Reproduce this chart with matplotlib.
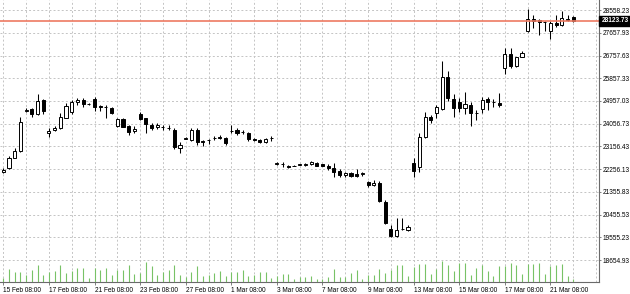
import matplotlib
matplotlib.use("Agg")
import matplotlib.pyplot as plt
import matplotlib.transforms as mtransforms

opens = [22167, 22306, 22721, 22979, 24581, 24641, 24443, 24997, 23671, 23810,
         23889, 24304, 24522, 24918, 24997, 24830, 25036, 24745, 24719, 24680,
         23968, 24225, 23948, 23770, 24423, 24265, 24027, 23909, 23909, 23895,
         23829, 23097, 23453, 23413, 23829, 23360, 23415, 23473, 23515, 23512,
         23770, 23790, 23730, 23691, 23465, 23413, 23334, 23473, 22483, 22464,
         22404, 22385, 22436, 22444, 22452, 22515, 22452, 22404, 22294, 22199,
         22017, 22120, 22068, 22056, 21751, 21645, 21724, 20972, 19872, 19614,
         19903, 19852, 22515, 22357, 23520, 24336, 24470, 24628, 25919, 25024,
         24905, 24668, 24799, 24470, 24628, 25024, 24929, 24890, 26251, 26817,
         26342, 26710, 27739, 28190, 28162, 28083, 27739, 28056, 27965, 28214,
         28269]
highs = [22306, 22781, 23097, 24324, 24680, 24680, 25234, 25036, 23869, 23968,
         24482, 24878, 24997, 25076, 25056, 24870, 25135, 24779, 24779, 24719,
         24265, 24265, 24007, 23948, 24522, 24304, 24086, 24067, 23988, 23988,
         23869, 23315, 23532, 23869, 23869, 23413, 23434, 23572, 23612, 23544,
         23988, 23869, 23810, 23730, 23481, 23441, 23473, 23572, 22543, 22543,
         22444, 22412, 22464, 22491, 22582, 22543, 22464, 22452, 22515, 22254,
         22136, 22159, 22254, 22159, 21791, 21831, 21803, 21039, 20050, 20315,
         20315, 20050, 22689, 23679, 24533, 24403, 24799, 26552, 26156, 25234,
         25064, 25301, 24905, 24601, 25127, 25127, 25024, 25262, 27043, 27066,
         26710, 26948, 28586, 28360, 28190, 28135, 28135, 28360, 28530, 28360,
         28321]
lows = [22108, 22266, 22702, 22939, 24522, 24324, 24403, 24443, 23552, 23770,
        23849, 24284, 24443, 24799, 24700, 24800, 24561, 24561, 24304, 24462,
        23909, 23909, 23612, 23671, 24205, 23691, 23810, 23849, 23829, 23810,
        23077, 22899, 23434, 23374, 23216, 23176, 23255, 23394, 23434, 23216,
        23691, 23612, 23651, 23386, 23386, 23283, 23307, 23386, 22424, 22333,
        22325, 22373, 22412, 22397, 22424, 22385, 22385, 22226, 21961, 21961,
        21961, 21961, 21949, 21989, 21565, 21593, 20972, 20089, 19587, 19587,
        19852, 19824, 21937, 22159, 23481, 24098, 24272, 24601, 24969, 24336,
        24533, 24443, 23968, 24205, 24470, 24601, 24731, 24731, 26026, 26251,
        26314, 26686, 27699, 27834, 27569, 27739, 27399, 27897, 27925, 28135,
        28095]
closes = [22246, 22702, 22998, 24126, 24601, 24443, 24957, 24542, 23770, 23889,
          24324, 24759, 24918, 24977, 24838, 24820, 24700, 24735, 24739, 24482,
          24225, 23928, 23750, 23849, 24245, 24047, 23889, 23988, 23928, 23885,
          23156, 23216, 23473, 23829, 23315, 23350, 23410, 23493, 23510, 23295,
          23765, 23691, 23750, 23453, 23413, 23334, 23434, 23493, 22503, 22452,
          22345, 22397, 22452, 22456, 22531, 22397, 22404, 22306, 22159, 22028,
          22096, 21989, 21989, 22120, 21645, 21724, 21011, 20117, 19614, 19852,
          19911, 19970, 22199, 23520, 24336, 24205, 24708, 25919, 25064, 24668,
          24668, 24826, 24470, 24482, 24997, 24929, 24937, 24799, 26817, 26342,
          26686, 26868, 28190, 28135, 28083, 28095, 28056, 27965, 28230, 28162,
          28123.73]
volumes = [330, 1270, 1000, 930, 630, 1170, 1630, 670, 930, 1070,
           1630, 830, 1100, 1330, 1370, 330, 1330, 1170, 1400, 630,
           1170, 1170, 1630, 770, 900, 1930, 1600, 630, 1000, 1170,
           1670, 700, 500, 1000, 1570, 550, 650, 900, 1050, 550,
           950, 950, 1200, 550, 650, 1000, 950, 400, 550, 800,
           800, 250, 450, 450, 600, 300, 250, 430, 1300, 500,
           520, 880, 1220, 280, 630, 720, 1250, 920, 1220, 1700,
           1680, 530, 1470, 1770, 1770, 770, 1270, 2100, 1670, 1100,
           1870, 1870, 670, 1370, 1670, 1100, 600, 1530, 1600, 1870,
           1670, 770, 1770, 1770, 1870, 770, 1530, 1700, 1770, 600,
           270]
x_tick_labels = ["15 Feb 08:00", "17 Feb 08:00", "21 Feb 08:00", "23 Feb 08:00",
                 "27 Feb 08:00", "1 Mar 08:00", "3 Mar 08:00", "7 Mar 08:00",
                 "9 Mar 08:00", "13 Mar 08:00", "15 Mar 08:00", "17 Mar 08:00",
                 "21 Mar 08:00"]
y_tick_values = [28558.23, 27657.93, 26757.63, 25857.33, 24957.03, 24056.73,
                 23156.43, 22256.13, 21355.83, 20455.53, 19555.23, 18654.93]
bid_price = 28123.73

FONT = "Liberation Sans"
FS = 4.7
W, H = 630, 294
rect = [0, 12.3 / H, 599 / W, 281.7 / H]

fig = plt.figure(figsize=(W / 100, H / 100), dpi=100)
fig.patch.set_facecolor("white")
ax = fig.add_axes(rect)
ax.set_facecolor("white")

n = len(opens)
xs = list(range(n))
ax.set_xlim(-0.58, 104.51)
ax.set_ylim(17806, 28954)

grid_kw = dict(color="#c4c4c4", linewidth=0.7, linestyle=(0, (2, 2.2)), zorder=0)
for yv in y_tick_values:
    ax.axhline(yv, **grid_kw)
for gx in range(0, 105, 4):
    ax.axvline(gx, **grid_kw)

# wicks
ax.vlines(xs, lows, highs, color="black", linewidth=0.75, zorder=2)
# bodies
for i in xs:
    o, c = opens[i], closes[i]
    bull = c >= o
    ax.bar(i, abs(c - o), bottom=min(o, c), width=0.55,
           facecolor="white" if bull else "black", edgecolor="black",
           linewidth=0.7, zorder=3)

ax.axhline(bid_price, color="#ee7a62", linewidth=1.2, zorder=4)

# volumes
axv = fig.add_axes(rect, sharex=ax)
axv.patch.set_visible(False)
axv.axis("off")
axv.set_ylim(0, 28170)
axv.vlines(xs, 0, volumes, color="#78c266", linewidth=0.8)

# axes styling
for s in ["left", "top"]:
    ax.spines[s].set_visible(False)
for s in ["bottom", "right"]:
    ax.spines[s].set_color("#6a6a6a")
    ax.spines[s].set_linewidth(0.8)

ax.yaxis.tick_right()
ax.set_yticks(y_tick_values)
ax.set_yticklabels([f"{v:.2f}" for v in y_tick_values], fontsize=FS, family=FONT)
ax.tick_params(axis="y", direction="out", length=1.5, width=0.6, pad=0.8,
               colors="black")
ax.tick_params(axis="y", color="#6a6a6a")

ax.set_xticks(list(range(0, n, 8)))
ax.set_xticklabels(x_tick_labels, fontsize=FS, family=FONT)
for lab in ax.get_xticklabels():
    lab.set_horizontalalignment("left")
ax.tick_params(axis="x", direction="out", length=2.2, width=0.6, pad=1.6,
               colors="black")
ax.tick_params(axis="x", color="#6a6a6a")

trans = mtransforms.blended_transform_factory(ax.transAxes, ax.transData)
ax.text(1.004, bid_price, f"{bid_price:.2f}", transform=trans, ha="left",
        va="center", color="white", fontsize=FS, family=FONT, fontweight="bold",
        bbox=dict(boxstyle="square,pad=0.3", facecolor="black", edgecolor="black"),
        clip_on=False, zorder=10)

fig.savefig("out.png", dpi=100)
